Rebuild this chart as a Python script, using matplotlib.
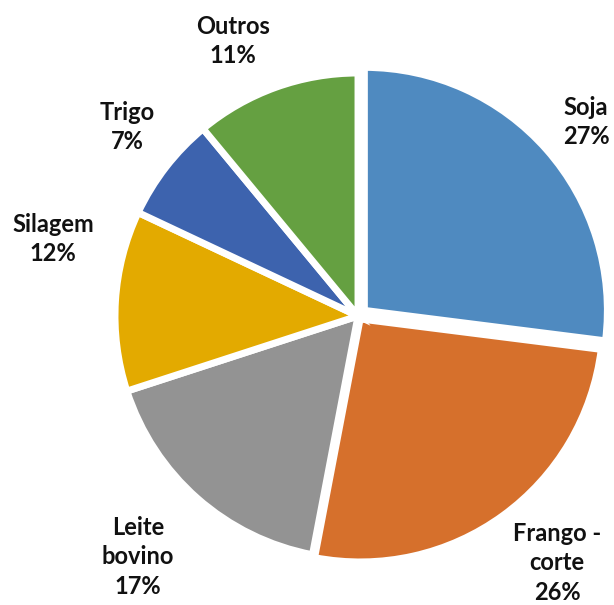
import matplotlib.pyplot as plt

# Participação por cultura/atividade
categorias = ['Soja', 'Frango -\ncorte', 'Leite\nbovino', 'Silagem', 'Trigo', 'Outros']
valores = [27, 26, 17, 12, 7, 11]
cores = ['#4F8AC0', '#D6702C', '#939393', '#E3AA00', '#3D63AE', '#65A041']
destaque = [0.035, 0.015, 0, 0, 0, 0]

# centro e raio da pizza em pixels, e posição dos rótulos (layout)
cx, cy, r = 358, 316, 243
pos_rotulos = [(586, 122), (557, 563), (138, 557), (53, 239), (127, 127), (233, 41)]

fig = plt.figure(figsize=(6.14, 6.05), dpi=100)
ax = fig.add_axes([0, 0, 1, 1])

rotulos = [f'{c}\n{v}%' for c, v in zip(categorias, valores)]
wedges, textos = ax.pie(valores, labels=rotulos, colors=cores, startangle=90,
                        counterclock=False, radius=1, explode=destaque,
                        wedgeprops=dict(edgecolor='white', linewidth=5),
                        textprops=dict(fontsize=17, fontweight='bold',
                                       family='Lato', color='#111111'))
for t, (px, py) in zip(textos, pos_rotulos):
    t.set_position(((px - cx) / r, (cy - py) / r))
    t.set_horizontalalignment('center')
    t.set_verticalalignment('center')
    t.set_linespacing(1.35)

ax.set_xlim(-cx / r, (614 - cx) / r)
ax.set_ylim(-(605 - cy) / r, cy / r)
ax.set_aspect('auto')
ax.axis('off')

fig.savefig('out.png', dpi=100)
